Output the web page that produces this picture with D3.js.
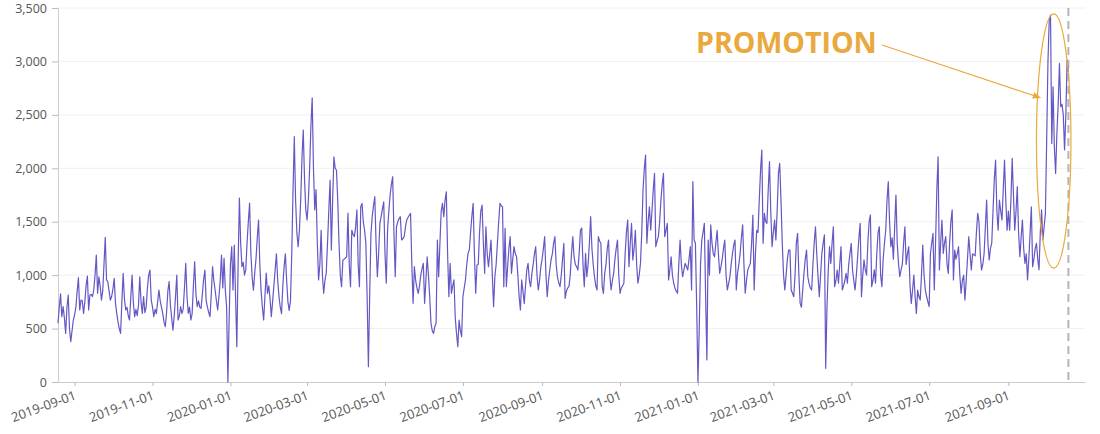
<!DOCTYPE html>
<html><head><meta charset="utf-8">
<script src="https://cdn.jsdelivr.net/npm/d3@7"></script>
<style>
html,body{margin:0;padding:0;background:#fff;}
svg{display:block;font-family:"Open Sans",sans-serif;}
</style></head>
<body><svg id="c" width="1100" height="434"></svg>
<script>
// daily series starting 2019-08-19
const startDate = "2019-08-19";
const values = [
550,700,824,611,705,600,455, 700,814,500,377,480,580,627, 700,850,976,674,767,760,642,
750,900,992,674,814,820,800, 861,1000,1188,830,985,900,767, 850,1100,1354,955,940,850,767,
800,870,970,740,642,560,500, 455,750,1017,780,674,700,620, 580,800,1000,740,611,680,620,
720,985,750,642,800,650,700, 880,1000,1048,767,700,611,680, 640,750,861,760,700,642,560,
517,650,850,940,720,600,486, 620,800,1000,580,620,705,640, 680,880,1110,800,642,700,580,
640,900,1126,820,705,760,700, 690,820,960,1048,760,700,650, 611,820,1079,950,861,760,674,
800,950,1188,880,1157,860,700, 0,600,1100,1266,860,1282,800, 330,1100,1722,1300,1080,1120,1000,
1050,1300,1500,1675,1200,980,860, 1020,1150,1350,1516,1100,850,700, 580,800,1020,830,900,780,611,
750,900,1050,1200,950,800,700, 640,900,1080,1200,950,750,670, 760,1200,1800,2296,1700,1400,1266,
1420,1700,2100,2358,1900,1610,1516, 1700,2000,2400,2660,2000,1610,1800, 1300,955,1100,1420,1000,830,950,
1020,1300,1600,1890,1235,1700,2108, 2000,1984,1700,1300,1000,892,1140, 1150,1160,1172,1580,1100,892,1420,
1380,1360,1450,1610,1100,892,1640, 1672,1500,1420,1300,800,143,800, 1390,1550,1650,1734,1300,985,1200,
1485,1550,1620,1687,1200,924,1420, 1600,1750,1850,1921,1400,985,1453, 1500,1530,1547,1329,1340,1360,1450,
1516,1540,1560,1578,1100,736,1079, 950,880,830,900,1000,1060,1110, 736,950,1172,1000,800,550,480,
455,520,550,1329,985,1300,1600, 1672,1547,1700,1780,1200,798,1110, 830,900,955,600,450,330,580,
480,424,798,880,955,1100,1204, 1235,1400,1550,1672,1200,830,1095, 1100,1400,1600,1656,1300,1017,1453,
1200,1079,1200,1329,1000,705,985, 1100,1300,1500,1672,1650,1640,892, 1437,892,1079,1250,1360,1017,1150,
1266,1200,1172,1000,800,674,955, 850,736,900,1050,1110,950,892, 1017,1100,1200,1266,1000,861,950,
1079,1150,1250,1360,1000,798,950, 1050,1142,1200,1300,1360,1100,985, 930,892,1000,1150,1298,783,850,
880,892,1000,1200,1360,1172,1100, 1080,1048,1200,1420,1440,1100,892, 1204,985,1100,1300,1547,1250,1100,
985,900,861,1360,1320,1298,900, 830,1017,1100,1250,1329,1000,861, 950,1017,1150,1250,1329,1000,830,
880,900,924,1200,1400,1516,1079, 1300,1485,1142,1250,1420,1100,924, 1000,1110,1400,1800,2000,2124,1298,
1500,1640,1420,1600,1800,1952,1266, 1320,1360,1500,1700,1850,1952,1360, 1420,1485,955,1050,1172,1000,924,
880,850,830,1100,1329,1100,985, 1050,1110,1080,1048,1150,1266,861, 1875,1329,1300,700,0,500,1100,
1329,1400,1485,800,206,1329,1000, 1470,1300,1200,1172,1300,1420,1200, 1017,1079,1150,1250,1329,1000,861,
920,985,1100,1200,1280,1329,861, 1017,1100,1200,1350,1470,1100,830, 950,1048,1080,1110,1300,1563,861,
1200,1420,1400,1700,1984,2171,1298, 1578,1500,1485,1800,2062,1600,1266, 1400,1516,1329,1600,1952,2046,1700,
1300,1000,861,1000,1150,1235,1235, 861,830,798,1000,1298,1391,1000, 736,700,861,1017,1150,1235,985,
920,880,861,1100,1300,1453,1200, 985,798,1000,1204,1300,1376,128, 700,1048,1266,1110,1300,1453,892,
950,1048,924,1100,1266,861,900, 950,1017,924,1100,1200,1298,1050, 950,861,1000,1172,1350,1485,798,
1000,1142,1050,1000,1300,1500,1563, 892,950,1050,924,1200,1400,1453, 1000,892,1150,1300,1420,1700,1875,
1500,1266,1350,1150,1450,1750,1300, 1110,985,1050,1100,1300,1453,1100, 1200,1266,900,736,861,1000,800,
642,860,800,767,1000,1282,1000, 861,800,750,705,1200,1300,1391, 861,1300,1800,2108,1048,1300,1516,
1204,1300,1360,1100,1017,1300,1500, 1610,955,1235,1150,1200,1266,1000, 830,950,1000,767,950,1150,1360,
1200,1048,1200,1190,1180,1400,1578, 1500,1200,1048,1100,1200,1450,1703, 1300,1142,1250,1300,1600,1900,2077,
1600,1420,1703,1600,1516,1800,2077, 1700,1420,1600,1420,1700,2093,1750, 1420,1600,1828,1400,1172,1350,1516,
1250,1110,1200,955,1150,1391,1640, 1079,1150,1250,1298,1150,1050,1400, 1610,1329,1450,1578,2265,3000,3388,
3434,2233,2763,2200,1952,2327,2600, 2981,2576,2600,2500,2171,2500,3013, 2900
];
const yTicks = [0,500,1000,1500,2000,2500,3000,3500];
const xTickLabels = ["2019-09-01","2019-11-01","2020-01-01","2020-03-01","2020-05-01","2020-07-01",
  "2020-09-01","2020-11-01","2021-01-01","2021-03-01","2021-05-01","2021-07-01","2021-09-01"];
const xDomain = ["2019-08-19","2021-10-31"];
const markerDate = "2021-10-18";
const annotationText = "PROMOTION";
const promoWindow = ["2021-09-23","2021-10-20"];
const promoRange = [1065, 3445];
const arrowTarget = ["2021-09-26", 2660];

const parse = d3.timeParse("%Y-%m-%d");
const start = parse(startDate);
const data = values.map((v,i)=>({date:d3.timeDay.offset(start,i), value:v}));

const svg = d3.select("#c");
const L=58, R=1085, T=8, B=382;
const x = d3.scaleTime().domain(xDomain.map(parse)).range([L,R]);
const y = d3.scaleLinear().domain([0,3500]).range([B,T]);

// grid
svg.append("g").selectAll("line").data(yTicks.filter(d=>d>0)).join("line")
  .attr("x1",L).attr("x2",R).attr("y1",d=>y(d)).attr("y2",d=>y(d))
  .attr("stroke","#f0f0f0").attr("stroke-width",1);

// y axis
const ya = svg.append("g").attr("transform",`translate(${L},0)`)
  .call(d3.axisLeft(y).tickValues(yTicks).tickFormat(d3.format(",")).tickSize(6).tickPadding(5));
ya.select(".domain").attr("stroke","#ccc");
ya.selectAll(".tick line").attr("stroke","#bbb");
ya.selectAll("text").attr("fill","#555").style("font-size","12.5px").style("font-family","Open Sans");

// x axis
const xa = svg.append("g").attr("transform",`translate(0,${B})`)
  .call(d3.axisBottom(x).tickValues(xTickLabels.map(parse)).tickFormat(d3.timeFormat("%Y-%m-%d")).tickSize(4).tickSizeOuter(0));
xa.select(".domain").attr("stroke","#ccc");
xa.selectAll(".tick line").attr("stroke","#bbb");
xa.selectAll("text").attr("fill","#555").style("font-size","13px").style("font-family","Open Sans")
  .attr("text-anchor","end").attr("x",0).attr("y",0).attr("dy",0)
  .attr("transform","translate(2,17) rotate(-20)");

// dashed marker
svg.append("line").attr("x1",x(parse(markerDate))).attr("x2",x(parse(markerDate)))
  .attr("y1",T).attr("y2",B).attr("stroke","#b5b5b5").attr("stroke-width",2).attr("stroke-dasharray","8,5");

// line
svg.append("path").datum(data)
  .attr("fill","none").attr("stroke","#6358c4").attr("stroke-width",1.2).attr("stroke-linejoin","round")
  .attr("d",d3.line().x(d=>x(d.date)).y(d=>y(d.value)));

// annotation
const orange="#eaa93c";
const px0 = x(parse(promoWindow[0])), px1 = x(parse(promoWindow[1]));
svg.append("ellipse").attr("cx",(px0+px1)/2).attr("cy",(y(promoRange[0])+y(promoRange[1]))/2)
  .attr("rx",(px1-px0)/2).attr("ry",(y(promoRange[0])-y(promoRange[1]))/2)
  .attr("fill","none").attr("stroke",orange).attr("stroke-width",1.2);
svg.append("defs").append("marker").attr("id","ah").attr("viewBox","0 0 10 10").attr("refX",9).attr("refY",5)
  .attr("markerWidth",7).attr("markerHeight",7).attr("orient","auto")
  .append("path").attr("d","M0,1L10,5L0,9z").attr("fill",orange);
svg.append("line").attr("x1",882).attr("y1",45)
  .attr("x2",x(parse(arrowTarget[0]))).attr("y2",y(arrowTarget[1]))
  .attr("stroke",orange).attr("stroke-width",1.2).attr("marker-end","url(#ah)");
svg.append("text").attr("x",696).attr("y",53).text(annotationText)
  .attr("fill",orange).style("font-size","28.5px").style("font-weight","700").style("font-family","Open Sans");
</script>
</body></html>
